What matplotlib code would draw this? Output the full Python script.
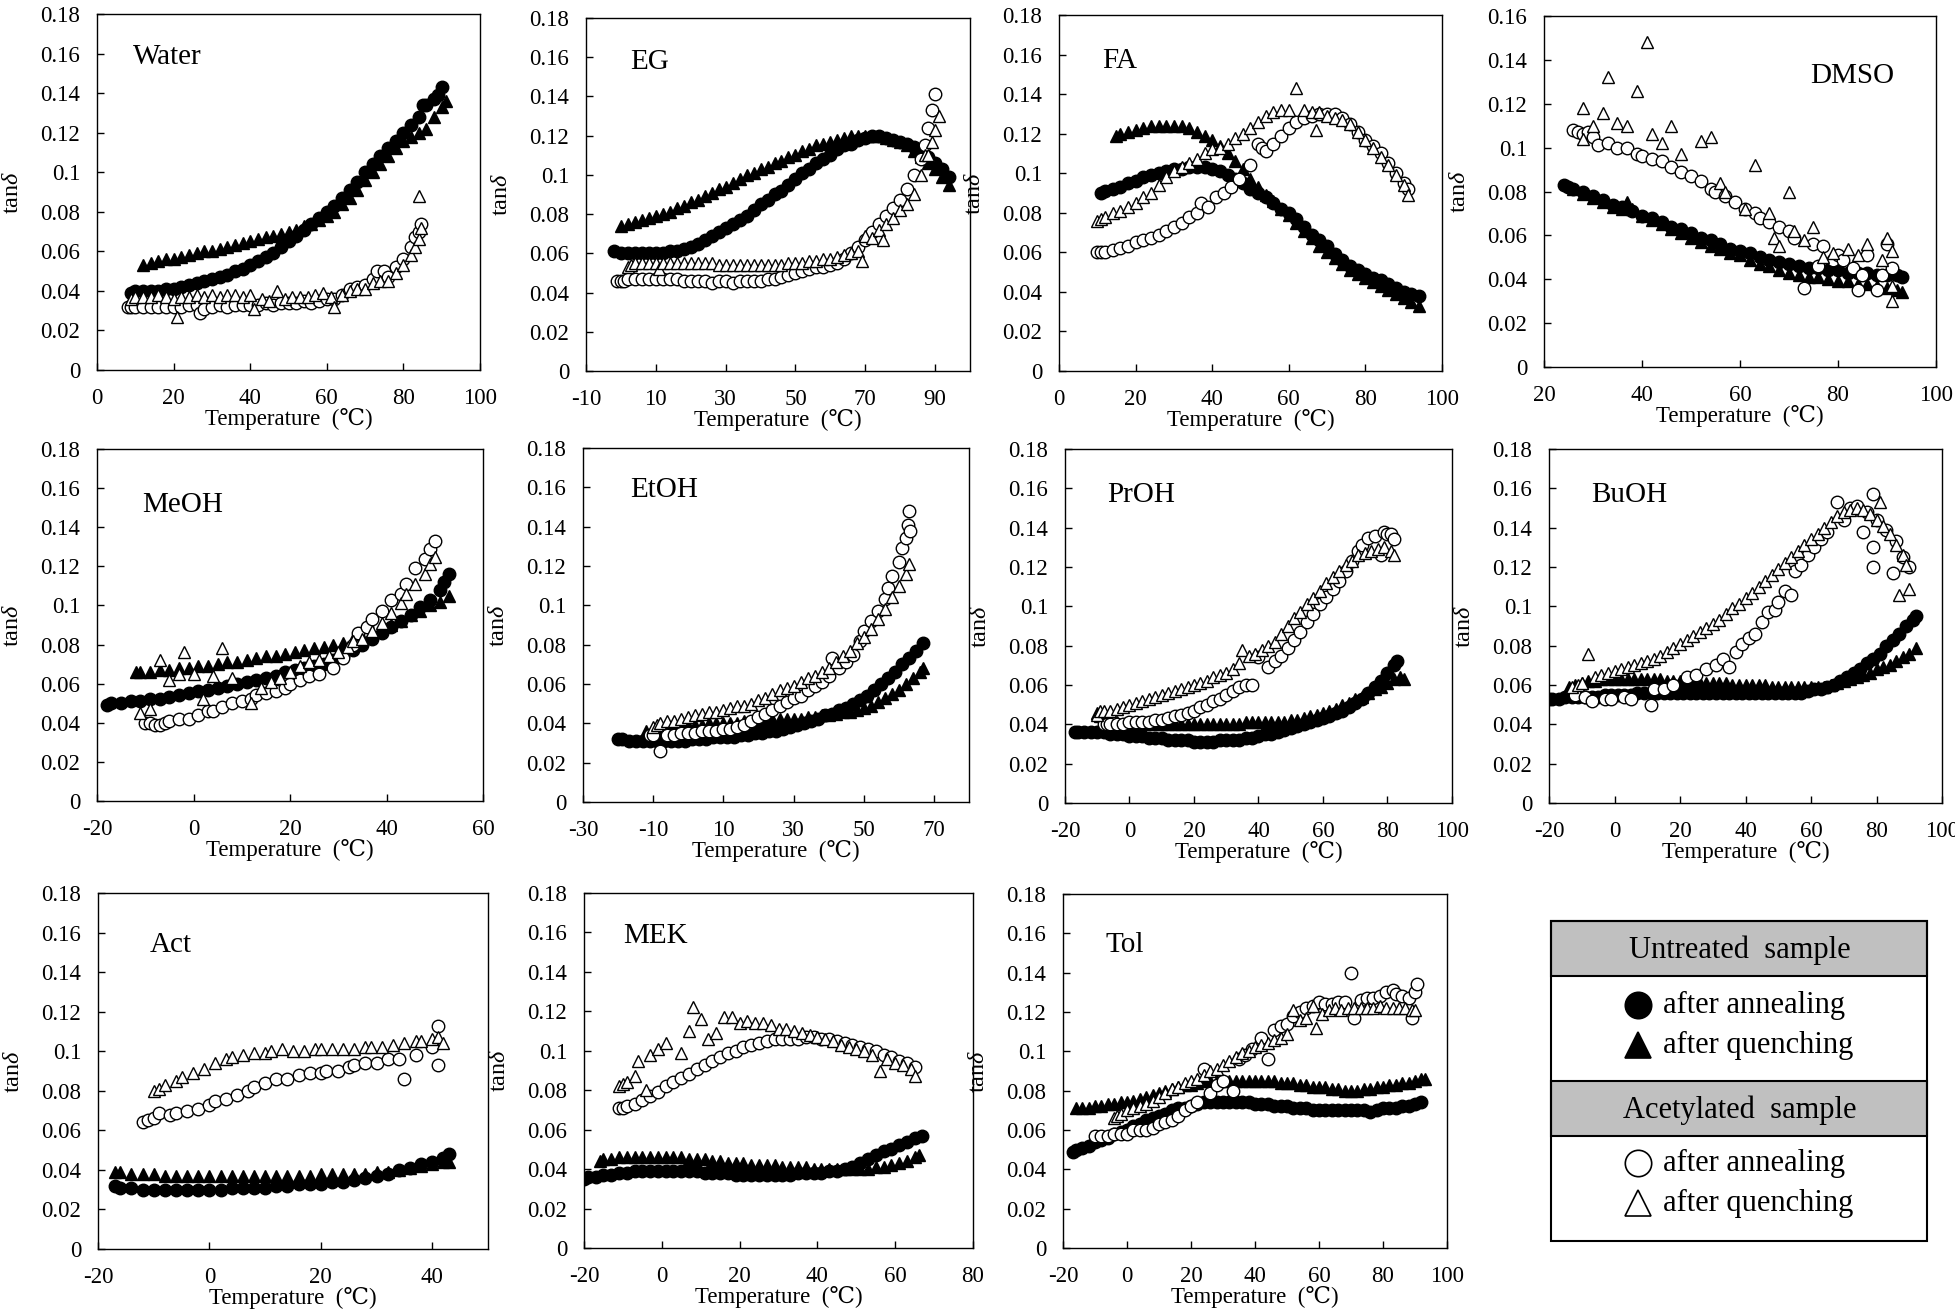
import numpy as np
import matplotlib
matplotlib.use("Agg")
import matplotlib.pyplot as plt
from matplotlib.patches import Rectangle

plt.rcParams['font.family'] = ['Liberation Serif', 'DejaVu Serif']
plt.rcParams['mathtext.fontset'] = 'custom'
plt.rcParams['mathtext.rm'] = 'Liberation Serif'
plt.rcParams['mathtext.it'] = 'Liberation Serif:italic'

# (temperature, tan delta)
# ua = untreated/annealing, uq = untreated/quenching, aa = acetylated/annealing, aq = acetylated/quenching
water_ua = [(9,.039),(10,.040),(12,.040),(14,.040),(16,.040),(18,.041),(20,.041),(22,.042),(24,.043),(26,.044),(28,.045),(30,.046),(32,.047),(34,.048),(36,.050),(38,.051),(40,.053),(42,.055),(44,.057),(46,.059),(48,.062),(50,.065),(52,.068),(54,.071),(56,.074),(58,.077),(60,.080),(62,.083),(64,.087),(66,.091),(68,.095),(70,.100),(72,.104),(74,.108),(76,.112),(78,.116),(80,.120),(82,.124),(84,.128),(85,.134),(86,.134),(88,.137),(89,.139),(90,.143)]
water_uq = [(12,.053),(14,.054),(16,.055),(18,.056),(20,.056),(22,.057),(24,.058),(26,.059),(28,.060),(30,.060),(32,.061),(34,.062),(36,.063),(38,.064),(40,.065),(42,.066),(44,.067),(46,.068),(48,.069),(50,.070),(52,.071),(54,.073),(56,.074),(58,.076),(60,.078),(62,.080),(64,.084),(66,.087),(68,.091),(70,.096),(72,.100),(74,.104),(76,.108),(78,.112),(80,.116),(82,.118),(84,.120),(86,.122),(88,.128),(90,.133),(91,.136)]
water_aa = [(8,.032),(9,.032),(10,.032),(12,.032),(14,.032),(16,.032),(18,.032),(20,.032),(22,.032),(24,.033),(26,.033),(27,.029),(28,.031),(30,.032),(32,.033),(34,.032),(36,.033),(38,.033),(40,.033),(42,.033),(44,.034),(46,.033),(48,.034),(50,.034),(52,.034),(54,.035),(56,.034),(58,.035),(60,.036),(62,.036),(64,.038),(66,.041),(68,.042),(70,.043),(72,.046),(73,.050),(75,.050),(76,.047),(78,.052),(80,.056),(82,.062),(83,.067),(84,.070),(84.5,.074)]
water_aq = [(9,.036),(10,.037),(12,.037),(14,.037),(16,.038),(18,.037),(20,.036),(21,.027),(22,.037),(24,.037),(26,.038),(28,.037),(30,.038),(32,.037),(34,.038),(36,.038),(38,.037),(40,.038),(41,.031),(43,.036),(45,.035),(47,.040),(49,.036),(51,.037),(53,.037),(55,.037),(57,.038),(59,.039),(61,.037),(62,.032),(64,.038),(66,.040),(68,.041),(70,.041),(72,.044),(74,.045),(76,.045),(78,.049),(80,.053),(82,.058),(83,.062),(84,.066),(84,.088),(84.5,.072)]

eg_ua = [(-2,.061),(0,.060),(2,.060),(4,.060),(6,.060),(8,.060),(10,.060),(12,.060),(14,.061),(16,.061),(18,.062),(20,.063),(22,.065),(24,.067),(26,.069),(28,.071),(30,.073),(32,.075),(34,.077),(36,.079),(38,.082),(40,.085),(42,.087),(44,.090),(46,.092),(48,.095),(50,.098),(52,.101),(54,.103),(56,.106),(58,.108),(60,.110),(62,.113),(64,.115),(66,.116),(68,.118),(70,.119),(72,.120),(74,.120),(76,.119),(78,.118),(80,.117),(82,.116),(84,.114),(86,.111),(88,.109),(90,.106),(92,.103),(94,.099)]
eg_uq = [(0,.074),(2,.075),(4,.076),(6,.077),(8,.078),(10,.079),(12,.080),(14,.081),(16,.083),(18,.084),(20,.086),(22,.087),(24,.089),(26,.091),(28,.093),(30,.094),(32,.096),(34,.098),(36,.100),(38,.101),(40,.103),(42,.104),(44,.106),(46,.107),(48,.109),(50,.110),(52,.112),(54,.113),(56,.115),(58,.116),(60,.117),(62,.118),(64,.119),(66,.120),(68,.120),(70,.120),(72,.120),(74,.120),(76,.119),(78,.118),(80,.117),(82,.115),(84,.112),(86,.109),(88,.106),(90,.103),(92,.099),(94,.095)]
eg_aa = [(-1,.046),(0,.046),(1,.046),(2,.047),(4,.047),(6,.047),(8,.047),(10,.047),(12,.047),(14,.047),(16,.047),(18,.046),(20,.046),(22,.046),(24,.046),(26,.045),(28,.046),(30,.046),(32,.045),(34,.046),(36,.046),(38,.046),(40,.046),(42,.047),(44,.047),(46,.048),(48,.049),(50,.050),(52,.051),(54,.052),(56,.053),(58,.053),(60,.054),(62,.055),(64,.057),(66,.060),(68,.063),(70,.067),(72,.071),(74,.075),(76,.079),(78,.083),(80,.087),(82,.093),(84,.100),(86,.108),(87,.115),(88,.124),(89,.133),(90,.141)]
eg_aq = [(2,.053),(3,.054),(4,.055),(6,.055),(8,.055),(10,.055),(11,.052),(12,.055),(14,.055),(16,.055),(18,.055),(20,.055),(22,.055),(24,.055),(26,.055),(28,.054),(30,.054),(32,.054),(34,.054),(36,.054),(38,.054),(40,.054),(42,.054),(44,.054),(46,.054),(48,.055),(50,.055),(52,.055),(54,.056),(56,.056),(58,.057),(60,.057),(62,.058),(64,.059),(66,.060),(68,.061),(69,.056),(70,.069),(72,.068),(74,.072),(75,.067),(76,.075),(78,.078),(80,.082),(82,.085),(84,.090),(86,.100),(87,.110),(88,.110),(89,.117),(90,.123),(91,.130)]

fa_ua = [(11,.090),(12,.091),(14,.092),(16,.093),(18,.095),(20,.096),(22,.098),(24,.099),(26,.100),(28,.101),(30,.102),(32,.102),(34,.103),(36,.103),(38,.103),(40,.102),(42,.101),(44,.099),(46,.097),(48,.095),(50,.092),(52,.090),(54,.088),(56,.085),(58,.082),(60,.080),(62,.077),(64,.073),(66,.069),(68,.066),(70,.063),(72,.059),(74,.056),(76,.053),(78,.051),(80,.049),(82,.047),(84,.046),(86,.044),(88,.042),(90,.040),(92,.039),(94,.038)]
fa_uq = [(15,.119),(16,.120),(18,.121),(20,.122),(22,.123),(24,.124),(26,.124),(28,.124),(30,.124),(32,.124),(34,.123),(36,.121),(38,.119),(40,.117),(42,.114),(44,.110),(46,.106),(48,.102),(50,.097),(52,.093),(54,.089),(56,.086),(58,.082),(60,.079),(62,.075),(64,.071),(66,.067),(68,.063),(70,.060),(72,.057),(74,.054),(76,.051),(78,.049),(80,.047),(82,.045),(84,.043),(86,.041),(88,.039),(90,.037),(92,.035),(94,.033)]
fa_aa = [(10,.060),(11,.060),(12,.060),(14,.061),(16,.062),(18,.063),(20,.065),(22,.066),(24,.067),(26,.069),(28,.071),(30,.073),(32,.075),(34,.078),(36,.080),(37,.085),(39,.083),(41,.088),(43,.090),(45,.093),(47,.097),(50,.104),(52,.115),(53,.113),(54,.111),(56,.115),(58,.119),(60,.123),(62,.126),(64,.128),(66,.129),(68,.130),(70,.130),(72,.130),(74,.128),(76,.125),(78,.121),(80,.117),(82,.114),(84,.110),(86,.105),(88,.100),(90,.095),(91,.092)]
fa_aq = [(10,.076),(11,.077),(12,.078),(14,.080),(16,.081),(18,.083),(20,.085),(22,.088),(24,.090),(26,.094),(28,.098),(30,.101),(32,.103),(34,.105),(36,.107),(38,.110),(40,.112),(42,.113),(44,.115),(46,.118),(48,.120),(50,.123),(52,.126),(54,.129),(56,.131),(58,.132),(60,.132),(62,.143),(64,.132),(66,.131),(67,.122),(68,.131),(70,.129),(72,.128),(74,.127),(76,.125),(78,.121),(80,.117),(82,.113),(84,.108),(86,.104),(88,.099),(90,.094),(91,.089)]

dmso_ua = [(24,.083),(25,.082),(26,.081),(28,.080),(30,.078),(32,.076),(34,.074),(36,.073),(38,.071),(40,.069),(42,.068),(44,.066),(46,.064),(48,.063),(50,.061),(52,.059),(54,.058),(56,.056),(58,.054),(60,.053),(62,.052),(64,.050),(66,.049),(68,.048),(70,.047),(72,.046),(74,.045),(76,.045),(78,.044),(80,.044),(82,.043),(84,.043),(86,.043),(88,.042),(90,.042),(92,.042),(93,.041)]
dmso_uq = [(26,.081),(28,.079),(30,.077),(32,.075),(34,.073),(36,.072),(37,.075),(38,.072),(40,.069),(42,.067),(44,.065),(46,.063),(48,.061),(50,.059),(52,.057),(54,.055),(56,.054),(58,.052),(60,.051),(62,.049),(64,.047),(66,.046),(68,.044),(70,.043),(72,.042),(74,.041),(76,.041),(78,.040),(80,.039),(82,.039),(84,.038),(86,.038),(88,.037),(90,.036),(92,.035),(93,.034)]
dmso_aa = [(26,.108),(27,.107),(28,.106),(29,.107),(30,.105),(31,.101),(33,.102),(35,.100),(37,.100),(39,.097),(40,.096),(42,.095),(44,.094),(46,.091),(48,.089),(50,.087),(52,.085),(54,.081),(55,.080),(57,.078),(59,.075),(61,.072),(63,.070),(64,.068),(66,.066),(68,.064),(70,.062),(71,.059),(73,.036),(75,.056),(76,.046),(77,.055),(79,.049),(80,.051),(81,.049),(83,.045),(84,.035),(85,.042),(86,.051),(88,.035),(89,.042),(90,.056),(91,.045)]
dmso_aq = [(28,.118),(28,.104),(30,.110),(32,.116),(33,.132),(35,.111),(37,.110),(39,.126),(41,.148),(42,.106),(44,.102),(46,.110),(48,.097),(52,.103),(54,.105),(56,.084),(57,.080),(61,.072),(63,.092),(66,.070),(67,.059),(68,.055),(70,.080),(71,.062),(73,.058),(75,.064),(77,.050),(79,.052),(82,.054),(84,.051),(86,.056),(89,.049),(90,.059),(91,.053),(91,.037),(91,.030)]

meoh_ua = [(-18,.049),(-17,.050),(-15,.050),(-13,.051),(-11,.051),(-9,.052),(-7,.052),(-5,.053),(-3,.054),(-1,.055),(1,.056),(3,.057),(5,.058),(7,.059),(9,.060),(11,.061),(13,.062),(15,.063),(17,.064),(19,.066),(21,.067),(23,.068),(25,.069),(27,.070),(29,.072),(31,.074),(33,.077),(35,.080),(37,.083),(39,.086),(41,.089),(43,.092),(45,.095),(47,.099),(49,.103),(51,.108),(52,.112),(53,.116)]
meoh_uq = [(-12,.066),(-11,.066),(-9,.066),(-7,.067),(-5,.067),(-3,.068),(-1,.068),(1,.069),(3,.069),(5,.070),(7,.071),(9,.071),(11,.072),(13,.073),(15,.074),(17,.074),(19,.075),(21,.076),(23,.077),(25,.078),(27,.079),(29,.080),(31,.081),(33,.083),(35,.084),(37,.086),(39,.088),(41,.090),(43,.092),(45,.095),(47,.097),(49,.100),(51,.102),(53,.105)]
meoh_aa = [(-10,.040),(-9,.040),(-8,.039),(-7,.039),(-6,.040),(-5,.041),(-3,.042),(-1,.042),(1,.044),(3,.046),(4,.046),(6,.048),(8,.050),(10,.051),(12,.052),(13,.054),(15,.055),(17,.056),(19,.058),(20,.060),(22,.062),(24,.064),(26,.065),(29,.068),(31,.073),(33,.080),(34,.086),(36,.089),(37,.093),(39,.097),(41,.103),(43,.106),(44,.111),(46,.119),(48,.124),(49,.129),(50,.133)]
meoh_aq = [(-11,.045),(-9,.047),(-7,.072),(-5,.062),(-3,.065),(-2,.076),(0,.065),(2,.052),(4,.064),(6,.078),(8,.063),(12,.050),(14,.058),(16,.061),(18,.063),(20,.066),(22,.069),(24,.071),(26,.072),(28,.074),(30,.076),(32,.079),(33,.082),(35,.083),(37,.087),(39,.091),(41,.096),(43,.101),(44,.106),(46,.111),(48,.116),(49,.121),(50,.125)]

etoh_ua = [(-20,.032),(-19,.032),(-17,.031),(-15,.031),(-13,.031),(-11,.031),(-9,.031),(-7,.031),(-5,.031),(-3,.031),(-1,.031),(1,.032),(3,.032),(5,.032),(7,.033),(9,.033),(11,.033),(13,.033),(15,.034),(17,.034),(19,.035),(21,.035),(23,.036),(25,.036),(27,.037),(29,.038),(31,.039),(33,.040),(35,.041),(37,.042),(39,.044),(41,.045),(43,.047),(45,.048),(47,.050),(49,.052),(51,.054),(53,.057),(55,.060),(57,.063),(59,.066),(61,.070),(63,.073),(65,.077),(67,.081)]
etoh_uq = [(-12,.036),(-10,.037),(-8,.037),(-6,.038),(-4,.038),(-2,.038),(0,.039),(2,.039),(4,.039),(6,.040),(8,.040),(10,.040),(12,.040),(14,.040),(16,.041),(18,.041),(20,.041),(22,.041),(24,.042),(26,.042),(28,.042),(30,.042),(32,.042),(34,.043),(36,.043),(38,.044),(40,.044),(42,.045),(44,.046),(46,.046),(48,.047),(50,.048),(52,.049),(54,.051),(56,.053),(58,.055),(60,.057),(62,.060),(64,.063),(66,.066),(67,.068)]
etoh_aa = [(-11,.034),(-10,.034),(-8,.026),(-6,.034),(-4,.034),(-2,.035),(0,.035),(2,.035),(4,.036),(6,.036),(8,.036),(10,.037),(12,.037),(14,.038),(16,.039),(18,.041),(20,.043),(22,.045),(24,.047),(26,.049),(28,.051),(30,.053),(32,.054),(34,.057),(36,.059),(38,.061),(40,.064),(41,.073),(43,.068),(45,.071),(47,.075),(49,.082),(50,.087),(52,.092),(54,.097),(56,.103),(57,.109),(58,.115),(60,.122),(61,.129),(62,.134),(62.5,.141),(63,.148),(63.2,.138)]
etoh_aq = [(-10,.038),(-9,.039),(-8,.040),(-6,.041),(-4,.041),(-2,.042),(0,.043),(2,.044),(4,.045),(6,.046),(8,.046),(10,.047),(12,.048),(14,.049),(16,.049),(18,.050),(20,.052),(22,.053),(24,.055),(26,.057),(28,.058),(30,.059),(32,.061),(34,.063),(36,.064),(38,.066),(40,.068),(42,.071),(44,.074),(46,.077),(48,.081),(50,.084),(52,.088),(54,.093),(56,.098),(58,.104),(60,.110),(62,.116),(63,.121)]

proh_ua = [(-17,.036),(-16,.036),(-14,.036),(-12,.036),(-10,.036),(-8,.036),(-6,.035),(-4,.035),(-2,.035),(0,.034),(2,.034),(4,.034),(6,.033),(8,.033),(10,.033),(12,.032),(14,.032),(16,.032),(18,.032),(20,.031),(22,.031),(24,.031),(26,.031),(28,.032),(30,.032),(32,.032),(34,.032),(36,.033),(38,.033),(40,.034),(42,.035),(44,.035),(46,.036),(48,.037),(50,.038),(52,.039),(54,.040),(56,.041),(58,.042),(60,.043),(62,.044),(64,.046),(66,.047),(68,.049),(70,.051),(72,.053),(74,.056),(76,.059),(78,.062),(80,.066),(82,.070),(83,.072)]
proh_uq = [(-10,.046),(-9,.044),(-8,.042),(-6,.041),(-4,.041),(-2,.040),(0,.040),(2,.040),(4,.040),(6,.040),(8,.040),(10,.040),(12,.040),(14,.040),(16,.040),(18,.040),(20,.040),(22,.040),(24,.040),(26,.040),(28,.040),(30,.040),(32,.040),(34,.040),(36,.041),(38,.041),(40,.041),(42,.041),(44,.041),(46,.041),(48,.041),(50,.042),(52,.042),(54,.043),(56,.044),(58,.045),(60,.046),(62,.047),(64,.048),(66,.050),(68,.051),(70,.053),(72,.054),(74,.056),(76,.058),(78,.059),(80,.061),(82,.063),(84,.064),(85,.063)]
proh_aa = [(-8,.040),(-7,.040),(-6,.040),(-4,.040),(-2,.040),(0,.041),(2,.041),(4,.041),(6,.041),(8,.042),(10,.042),(12,.043),(14,.044),(16,.045),(18,.046),(20,.047),(22,.049),(24,.050),(26,.052),(28,.053),(30,.055),(32,.057),(34,.059),(36,.060),(38,.060),(40,.074),(43,.069),(45,.072),(47,.075),(49,.079),(51,.083),(53,.087),(55,.092),(57,.096),(59,.101),(61,.105),(63,.109),(65,.113),(67,.118),(69,.123),(71,.128),(72,.131),(74,.135),(76,.136),(78,.126),(79,.138),(80,.137),(81,.137),(82,.134)]
proh_aq = [(-10,.045),(-9,.047),(-8,.047),(-6,.047),(-4,.048),(-2,.049),(0,.050),(2,.051),(4,.052),(6,.053),(8,.054),(10,.055),(12,.056),(14,.057),(16,.058),(18,.059),(20,.060),(22,.061),(24,.062),(26,.064),(28,.065),(30,.066),(32,.068),(34,.071),(35,.078),(37,.075),(39,.076),(41,.078),(43,.080),(45,.082),(47,.086),(49,.090),(51,.094),(53,.097),(55,.101),(57,.104),(59,.108),(61,.112),(63,.115),(65,.118),(67,.121),(69,.123),(71,.126),(73,.127),(75,.128),(77,.129),(79,.130),(81,.128),(82,.126)]

buoh_ua = [(-20,.053),(-19,.053),(-17,.053),(-15,.054),(-13,.054),(-11,.054),(-9,.054),(-7,.054),(-5,.054),(-3,.055),(-1,.055),(1,.055),(3,.055),(5,.055),(7,.056),(9,.056),(11,.056),(13,.056),(15,.056),(17,.056),(19,.056),(21,.056),(23,.056),(25,.056),(27,.056),(29,.056),(31,.056),(33,.056),(35,.056),(37,.056),(39,.056),(41,.056),(43,.056),(45,.056),(47,.056),(49,.056),(51,.056),(53,.056),(55,.056),(57,.056),(59,.057),(61,.058),(63,.058),(65,.059),(67,.060),(69,.062),(71,.064),(73,.066),(75,.068),(77,.071),(79,.073),(81,.076),(83,.080),(85,.083),(87,.086),(89,.090),(91,.093),(92,.095)]
buoh_uq = [(-14,.059),(-12,.060),(-10,.061),(-8,.062),(-6,.062),(-4,.063),(-2,.063),(0,.063),(2,.063),(4,.063),(6,.063),(8,.063),(10,.063),(12,.063),(14,.063),(16,.062),(18,.062),(20,.062),(22,.062),(24,.062),(26,.061),(28,.061),(30,.061),(32,.061),(34,.061),(36,.060),(38,.060),(40,.060),(42,.060),(44,.060),(46,.060),(48,.059),(50,.059),(52,.059),(54,.059),(56,.059),(58,.059),(60,.059),(62,.059),(64,.059),(66,.060),(68,.061),(70,.062),(72,.063),(74,.064),(76,.065),(78,.066),(80,.068),(82,.069),(84,.070),(86,.072),(88,.074),(90,.076),(92,.079)]
buoh_aa = [(-12,.055),(-9,.054),(-7,.052),(-3,.053),(-1,.053),(3,.054),(5,.053),(11,.050),(12,.058),(15,.058),(18,.060),(22,.064),(25,.065),(28,.068),(31,.070),(33,.073),(35,.069),(37,.077),(39,.081),(41,.084),(43,.086),(45,.092),(47,.097),(49,.098),(50,.102),(52,.108),(54,.106),(55,.118),(57,.121),(59,.126),(61,.130),(63,.134),(65,.138),(68,.153),(70,.144),(72,.150),(74,.151),(76,.138),(77,.148),(79,.120),(79,.130),(79,.157),(80,.144),(83,.139),(85,.117),(86,.133),(88,.125),(90,.120)]
buoh_aq = [(-13,.059),(-11,.060),(-10,.061),(-8,.076),(-6,.064),(-4,.065),(-2,.066),(0,.067),(2,.068),(4,.069),(6,.070),(8,.071),(10,.072),(12,.073),(14,.075),(16,.077),(18,.079),(20,.081),(22,.083),(24,.085),(26,.087),(28,.089),(30,.091),(32,.093),(34,.096),(36,.099),(38,.101),(40,.104),(42,.107),(44,.110),(46,.113),(48,.116),(50,.119),(52,.122),(54,.125),(56,.128),(58,.131),(60,.134),(62,.137),(64,.140),(66,.143),(68,.146),(70,.148),(72,.149),(74,.150),(76,.149),(78,.147),(80,.144),(81,.153),(82,.141),(84,.137),(86,.131),(87,.106),(88,.126),(89,.121),(90,.109)]

act_ua = [(-17,.032),(-16,.031),(-14,.031),(-12,.030),(-10,.030),(-8,.030),(-6,.030),(-4,.030),(-2,.030),(0,.030),(2,.030),(4,.031),(6,.031),(8,.031),(10,.031),(12,.032),(14,.032),(16,.033),(18,.033),(20,.033),(22,.034),(24,.034),(26,.035),(28,.036),(30,.037),(32,.038),(34,.040),(36,.041),(38,.043),(40,.044),(42,.046),(43,.048)]
act_uq = [(-17,.039),(-16,.039),(-14,.038),(-12,.038),(-10,.038),(-8,.037),(-6,.037),(-4,.037),(-2,.037),(0,.037),(2,.037),(4,.037),(6,.037),(8,.037),(10,.037),(12,.037),(14,.037),(16,.037),(18,.037),(20,.038),(22,.038),(24,.038),(26,.038),(28,.038),(30,.039),(32,.039),(34,.040),(36,.041),(38,.042),(40,.043),(42,.044),(43,.044)]
act_aa = [(-12,.064),(-11,.065),(-10,.066),(-9,.069),(-7,.068),(-6,.069),(-4,.070),(-2,.071),(0,.073),(1,.075),(3,.076),(5,.078),(7,.080),(8,.082),(10,.084),(12,.086),(14,.086),(16,.088),(18,.089),(20,.089),(21,.090),(23,.090),(25,.092),(26,.093),(28,.094),(30,.094),(32,.096),(34,.096),(35,.086),(37,.098),(40,.102),(41,.113),(41,.093)]
act_aq = [(-10,.080),(-9,.081),(-8,.083),(-6,.085),(-5,.087),(-3,.089),(-1,.091),(1,.094),(3,.096),(4,.097),(6,.098),(8,.099),(10,.099),(11,.100),(13,.101),(15,.100),(17,.100),(19,.101),(20,.101),(22,.101),(24,.101),(26,.101),(28,.102),(29,.102),(31,.102),(33,.103),(35,.104),(37,.105),(38,.105),(40,.106),(41,.107),(42,.104)]

mek_ua = [(-20,.035),(-19,.036),(-17,.036),(-15,.037),(-13,.037),(-11,.038),(-9,.038),(-7,.039),(-5,.039),(-3,.039),(-1,.039),(1,.039),(3,.039),(5,.039),(7,.039),(9,.039),(11,.038),(13,.038),(15,.038),(17,.038),(19,.037),(21,.037),(23,.037),(25,.037),(27,.037),(29,.037),(31,.037),(33,.037),(35,.038),(37,.038),(39,.038),(41,.038),(43,.039),(45,.039),(47,.040),(49,.041),(51,.043),(53,.045),(55,.047),(57,.049),(59,.050),(61,.052),(63,.054),(65,.056),(67,.057)]
mek_uq = [(-16,.044),(-15,.045),(-13,.045),(-11,.046),(-9,.046),(-7,.046),(-5,.046),(-3,.046),(-1,.046),(1,.046),(3,.046),(5,.046),(7,.045),(9,.045),(11,.045),(13,.044),(15,.044),(17,.043),(19,.043),(21,.043),(23,.042),(25,.042),(27,.042),(29,.042),(31,.041),(33,.041),(35,.041),(37,.041),(39,.040),(41,.040),(43,.040),(45,.040),(47,.040),(49,.040),(51,.040),(53,.040),(55,.041),(57,.041),(59,.042),(61,.043),(63,.044),(65,.046),(66,.047)]
mek_aa = [(-11,.071),(-10,.071),(-9,.072),(-7,.073),(-5,.075),(-3,.077),(-1,.079),(1,.082),(3,.084),(5,.086),(7,.088),(9,.091),(11,.093),(13,.095),(15,.097),(17,.099),(19,.100),(21,.102),(23,.103),(25,.104),(27,.105),(29,.106),(31,.106),(33,.106),(35,.106),(37,.107),(39,.107),(41,.106),(43,.106),(45,.105),(47,.104),(49,.103),(51,.102),(53,.101),(55,.100),(57,.098),(59,.097),(61,.095),(63,.094),(65,.092)]
mek_aq = [(-11,.082),(-10,.083),(-9,.084),(-7,.087),(-6,.095),(-4,.080),(-3,.098),(-1,.101),(1,.104),(5,.099),(7,.110),(8,.122),(10,.116),(12,.106),(14,.109),(16,.117),(18,.117),(20,.114),(22,.115),(24,.114),(26,.114),(28,.113),(30,.111),(32,.111),(34,.110),(36,.109),(38,.108),(40,.107),(42,.106),(44,.105),(46,.103),(48,.102),(50,.101),(52,.100),(54,.098),(56,.090),(58,.096),(60,.094),(62,.093),(64,.091),(65,.087)]

tol_ua = [(-17,.049),(-16,.050),(-14,.051),(-12,.052),(-10,.054),(-8,.055),(-6,.056),(-4,.058),(-2,.059),(0,.060),(2,.062),(4,.063),(6,.065),(8,.066),(10,.067),(12,.068),(14,.070),(16,.071),(18,.071),(20,.072),(22,.073),(24,.074),(26,.074),(28,.074),(30,.074),(32,.074),(34,.074),(36,.074),(38,.074),(40,.073),(42,.073),(44,.073),(46,.072),(48,.072),(50,.072),(52,.071),(54,.071),(56,.071),(58,.070),(60,.070),(62,.070),(64,.070),(66,.070),(68,.070),(70,.070),(72,.070),(74,.070),(76,.069),(78,.070),(80,.071),(82,.071),(84,.071),(86,.072),(88,.072),(90,.073),(92,.074)]
tol_uq = [(-16,.071),(-14,.071),(-12,.071),(-10,.072),(-8,.072),(-6,.073),(-4,.073),(-2,.074),(0,.074),(2,.075),(4,.076),(6,.077),(8,.078),(10,.079),(12,.080),(14,.081),(16,.082),(18,.083),(20,.083),(22,.084),(24,.085),(26,.085),(28,.085),(30,.085),(32,.085),(34,.085),(36,.085),(38,.085),(40,.085),(42,.085),(44,.085),(46,.085),(48,.084),(50,.084),(52,.084),(54,.083),(56,.083),(58,.082),(60,.082),(62,.082),(64,.081),(66,.081),(68,.080),(70,.080),(72,.080),(74,.081),(76,.081),(78,.082),(80,.082),(82,.083),(84,.083),(86,.084),(88,.084),(90,.085),(92,.086),(93,.086)]
tol_aa = [(-10,.057),(-8,.057),(-6,.057),(-4,.058),(-2,.058),(0,.058),(2,.060),(4,.060),(6,.060),(8,.061),(10,.063),(12,.064),(14,.065),(16,.067),(18,.070),(20,.072),(22,.074),(24,.091),(26,.079),(28,.083),(30,.085),(33,.080),(35,.096),(37,.098),(39,.101),(42,.107),(44,.096),(46,.111),(48,.113),(50,.114),(52,.118),(54,.120),(56,.122),(58,.123),(60,.125),(62,.124),(64,.124),(66,.125),(68,.125),(70,.140),(71,.117),(73,.126),(75,.127),(77,.127),(79,.128),(81,.130),(83,.131),(84,.129),(86,.128),(88,.127),(89,.117),(90,.130),(90.5,.134)]
tol_aq = [(-4,.066),(-3,.067),(-2,.068),(0,.070),(2,.071),(4,.072),(6,.073),(8,.075),(10,.077),(12,.079),(14,.081),(16,.082),(18,.084),(20,.085),(22,.086),(24,.088),(26,.090),(28,.091),(30,.093),(32,.095),(34,.097),(36,.099),(38,.100),(40,.102),(42,.103),(44,.104),(46,.106),(48,.107),(50,.109),(52,.121),(54,.116),(56,.117),(58,.123),(59,.112),(61,.119),(63,.121),(65,.122),(67,.121),(69,.122),(71,.122),(73,.122),(75,.122),(77,.122),(79,.123),(81,.122),(83,.122),(85,.122),(87,.122),(89,.121),(90,.121)]

yticks_18 = [0, 0.02, 0.04, 0.06, 0.08, 0.1, 0.12, 0.14, 0.16, 0.18]
yticks_16 = [0, 0.02, 0.04, 0.06, 0.08, 0.1, 0.12, 0.14, 0.16]

W, H = 1956, 1312
fig = plt.figure(figsize=(W / 100, H / 100), dpi=100)


def px_rect(x0, y0, x1, y1):
    return [x0 / W, 1 - y1 / H, (x1 - x0) / W, (y1 - y0) / H]


def draw_panel(box, name, name_pos, xlim, xticks, yticks, series):
    ax = fig.add_axes(px_rect(*box))
    styles = [('o', 'black'), ('^', 'black'), ('o', 'white'), ('^', 'white')]
    for pts, (mk, face) in zip(series, styles):
        t = [p[0] for p in pts]
        v = [p[1] for p in pts]
        ax.plot(t, v, linestyle='none', marker=mk, ms=9, mfc=face,
                mec='black', mew=1.0)
    ax.set_xlim(*xlim)
    ax.set_ylim(yticks[0], yticks[-1])
    ax.set_xticks(xticks)
    ax.set_xticklabels([str(x) for x in xticks])
    ax.set_yticks(yticks)
    ax.set_yticklabels(['{:g}'.format(y) for y in yticks])
    ax.tick_params(direction='in', length=5, width=1, labelsize=16.5,
                   top=False, right=False)
    ax.tick_params(axis='x', pad=13)
    ax.tick_params(axis='y', pad=12)
    for s in ax.spines.values():
        s.set_linewidth(1.0)
    wpx = box[2] - box[0]
    hpx = box[3] - box[1]
    ax.set_ylabel(r'tan$\delta$', fontsize=17.5)
    ax.yaxis.set_label_coords(-74 / wpx, 0.5)
    ax.set_xlabel('Temperature  (℃)', fontsize=16.5)
    ax.xaxis.set_label_coords(0.5, -38 / hpx)
    ax.text(name_pos[0], name_pos[1], name, transform=ax.transAxes,
            fontsize=21, ha='left', va='center')
    return ax


draw_panel((97, 14, 480, 370), 'Water', (0.094, 0.88), (0, 100), [0, 20, 40, 60, 80, 100], yticks_18,
           [water_ua, water_uq, water_aa, water_aq])
draw_panel((586, 18, 970, 371), 'EG', (0.115, 0.875), (-10, 100), [-10, 10, 30, 50, 70, 90], yticks_18,
           [eg_ua, eg_uq, eg_aa, eg_aq])
draw_panel((1059, 15, 1442, 371), 'FA', (0.112, 0.87), (0, 100), [0, 20, 40, 60, 80, 100], yticks_18,
           [fa_ua, fa_uq, fa_aa, fa_aq])
draw_panel((1544, 16, 1936, 367), 'DMSO', (0.68, 0.83), (20, 100), [20, 40, 60, 80, 100], yticks_16,
           [dmso_ua, dmso_uq, dmso_aa, dmso_aq])
draw_panel((97, 449, 483, 801), 'MeOH', (0.117, 0.84), (-20, 60), [-20, 0, 20, 40, 60], yticks_18,
           [meoh_ua, meoh_uq, meoh_aa, meoh_aq])
draw_panel((583, 448, 969, 802), 'EtOH', (0.122, 0.88), (-30, 80), [-30, -10, 10, 30, 50, 70], yticks_18,
           [etoh_ua, etoh_uq, etoh_aa, etoh_aq])
draw_panel((1065, 449, 1452, 803), 'PrOH', (0.109, 0.87), (-20, 100), [-20, 0, 20, 40, 60, 80, 100], yticks_18,
           [proh_ua, proh_uq, proh_aa, proh_aq])
draw_panel((1549, 449, 1942, 803), 'BuOH', (0.108, 0.87), (-20, 100), [-20, 0, 20, 40, 60, 80, 100], yticks_18,
           [buoh_ua, buoh_uq, buoh_aa, buoh_aq])
draw_panel((98, 893, 488, 1249), 'Act', (0.133, 0.854), (-20, 50), [-20, 0, 20, 40], yticks_18,
           [act_ua, act_uq, act_aa, act_aq])
draw_panel((584, 893, 973, 1248), 'MEK', (0.10, 0.88), (-20, 80), [-20, 0, 20, 40, 60, 80], yticks_18,
           [mek_ua, mek_uq, mek_aa, mek_aq])
draw_panel((1063, 894, 1447, 1248), 'Tol', (0.11, 0.856), (-20, 100), [-20, 0, 20, 40, 60, 80, 100], yticks_18,
           [tol_ua, tol_uq, tol_aa, tol_aq])

# legend box drawn by hand
lax = fig.add_axes(px_rect(1551, 921, 1927, 1241))
lax.set_xlim(0, 376)
lax.set_ylim(320, 0)
lax.axis('off')
for y0, h in [(0, 55), (160, 55)]:
    lax.add_patch(Rectangle((0, y0), 376, h, fc='#c0c0c0', ec='black', lw=1.5, clip_on=False))
lax.add_patch(Rectangle((0, 0), 376, 320, fill=False, ec='black', lw=1.5, clip_on=False))
lax.text(189, 29, 'Untreated  sample', ha='center', va='center', fontsize=22)
lax.text(189, 189, 'Acetylated  sample', ha='center', va='center', fontsize=22)
legend_rows = [(84, 'o', 'black', 'after annealing'), (124, '^', 'black', 'after quenching'),
               (242, 'o', 'white', 'after annealing'), (282, '^', 'white', 'after quenching')]
for y, mk, face, label in legend_rows:
    lax.plot([87], [y], marker=mk, ms=19, mfc=face, mec='black', mew=1.2,
             linestyle='none', clip_on=False)
    lax.text(112, y, label, ha='left', va='center', fontsize=22)

fig.savefig('out.png', dpi=100)
